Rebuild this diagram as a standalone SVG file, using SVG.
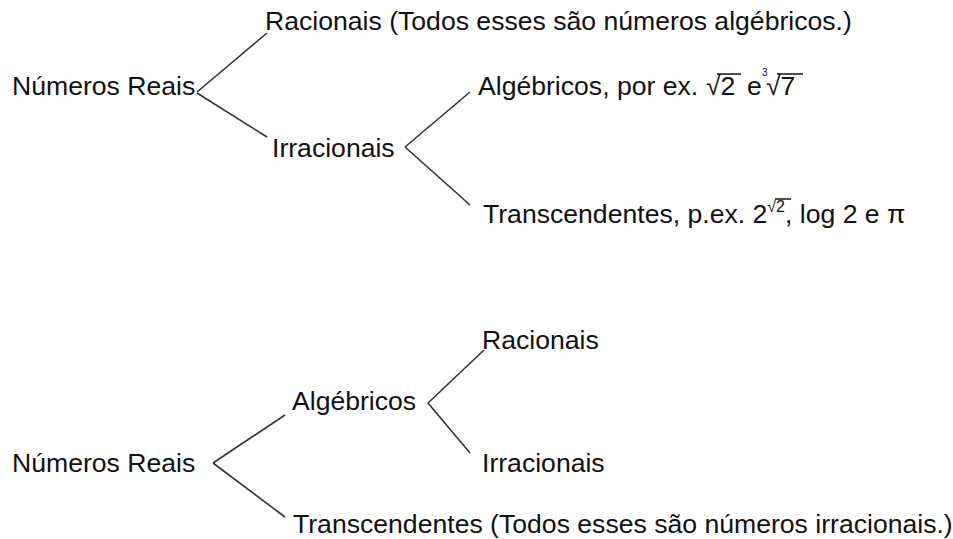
<svg xmlns="http://www.w3.org/2000/svg" width="953" height="539" viewBox="0 0 953 539">
<style>
text{font-family:"Liberation Sans",Arial,sans-serif;font-size:26.6px;fill:#111}
.sm{font-size:16px}
.tiny{font-size:10px}
.c line{stroke:#333;stroke-width:1.6;fill:none}
.v{stroke:#111;stroke-width:1.5}
</style>
<rect width="953" height="539" fill="#fff"/>
<g class="c" id="connectors">
<line x1="197" y1="92" x2="267" y2="33"/>
<line x1="197" y1="93" x2="267" y2="137"/>
<line x1="405" y1="147" x2="470" y2="92"/>
<line x1="405" y1="147" x2="470" y2="205"/>
<line x1="213" y1="463" x2="285" y2="415"/>
<line x1="213" y1="463" x2="285" y2="517"/>
<line x1="428" y1="403" x2="484" y2="350"/>
<line x1="428" y1="403" x2="470" y2="453"/>
</g>
<g id="n1"><text x="12" y="95">Números Reais</text></g>
<g id="n2"><text x="265" y="30">Racionais (Todos esses são números algébricos.)</text></g>
<g id="n3"><text x="272" y="157">Irracionais</text></g>
<g id="n4"><text x="478" y="95">Algébricos, por ex.</text>
<text x="706" y="95">√2</text>
<line class="v" x1="717" y1="74" x2="741" y2="74"/>
<text x="747" y="95">e</text>
<text class="tiny" x="762" y="76">3</text>
<text x="766" y="95">√7</text>
<line class="v" x1="777" y1="74" x2="803" y2="74"/>
</g>
<g id="n5"><text x="483" y="223">Transcendentes, p.ex. 2<tspan class="sm" dy="-11">√2</tspan><tspan dy="11">, log 2 e π</tspan></text>
<line class="v" x1="775" y1="199" x2="791" y2="199"/>
</g>
<g id="n6"><text x="12" y="472">Números Reais</text></g>
<g id="n7"><text x="292" y="410">Algébricos</text></g>
<g id="n8"><text x="482" y="349">Racionais</text></g>
<g id="n9"><text x="482" y="472">Irracionais</text></g>
<g id="n10"><text x="293" y="533">Transcendentes (Todos esses são números irracionais.)</text></g>
</svg>
